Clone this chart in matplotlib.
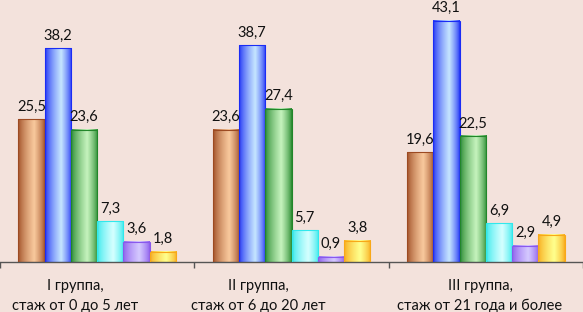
import numpy as np
import matplotlib
matplotlib.use("Agg")
import matplotlib.pyplot as plt
from matplotlib.colors import LinearSegmentedColormap
from matplotlib.patches import Rectangle
from matplotlib.transforms import blended_transform_factory

categories = ["I группа,\nстаж от 0 до 5 лет",
              "II группа,\nстаж от 6 до 20 лет",
              "III группа,\nстаж от 21 года и более"]
s1 = [25.5, 23.6, 19.6]
s2 = [38.2, 38.7, 43.1]
s3 = [23.6, 27.4, 22.5]
s4 = [7.3, 5.7, 6.9]
s5 = [3.6, 0.9, 2.9]
s6 = [1.8, 3.8, 4.9]
labels = [["25,5", "23,6", "19,6"], ["38,2", "38,7", "43,1"], ["23,6", "27,4", "22,5"],
          ["7,3", "5,7", "6,9"], ["3,6", "0,9", "2,9"], ["1,8", "3,8", "4,9"]]
series = [s1, s2, s3, s4, s5, s6]

# (dark edge, light centre)
palette = [("#9c4a22", "#f8c89c"),
           ("#1a2cf5", "#c4e4ff"),
           ("#22862a", "#c4f2bc"),
           ("#30e8ec", "#d4ffff"),
           ("#8a58ec", "#d4c8ff"),
           ("#f8a818", "#ffff8c")]
# horizontal shift of category captions relative to group centre (style)
caption_shift = [-0.115, -0.17, -0.03]

bg = "#f3e2dc"
plt.rcParams['font.family'] = ['Lato', 'DejaVu Sans']

fig = plt.figure(figsize=(5.83, 3.12), dpi=100, facecolor=bg)
ax = fig.add_axes([0.0, (312 - 262) / 312, 1.0, (262 - 10) / 312])
ax.set_facecolor(bg)
ax.set_xlim(0, 3)
ax.set_ylim(0, 45)

bw = 0.135
n = len(series)
x = np.arange(len(categories)) + 0.5
grad = np.concatenate([np.linspace(0, 1, 60), np.linspace(1, 0, 40)])
grad = grad ** 0.7
for i, (vals, (dark, light)) in enumerate(zip(series, palette)):
    cmap = LinearSegmentedColormap.from_list(f"c{i}", [dark, light])
    offs = (i - (n - 1) / 2) * bw
    for j, v in enumerate(vals):
        x0 = x[j] + offs - bw / 2
        ax.imshow(grad[np.newaxis, :], cmap=cmap, aspect='auto',
                  extent=[x0, x0 + bw, 0, v], vmin=0, vmax=1, zorder=2)
        ax.add_patch(Rectangle((x0, 0), bw, v, fill=False, edgecolor=dark,
                               linewidth=0.8, zorder=3))
        ax.text(x[j] + offs, v + 1.0, labels[i][j], ha='center', va='bottom',
                fontsize=10.5, color='#111111', clip_on=False, zorder=4)

ax.set_xlim(0, 3)
ax.set_ylim(0, 45)
for sp in ['top', 'right', 'left']:
    ax.spines[sp].set_visible(False)
ax.spines['bottom'].set_color('#555555')
ax.spines['bottom'].set_linewidth(1.0)
ax.set_yticks([])
ax.set_xticks([0, 1, 2, 3])
ax.set_xticklabels([])
ax.tick_params(axis='x', direction='out', length=4, color='#555555', width=1)

tr = blended_transform_factory(ax.transData, fig.transFigure)
for j, c in enumerate(categories):
    l1, l2 = c.split("\n")
    cx = x[j] + caption_shift[j]
    ax.text(cx, 1 - 290 / 312, l1, ha='center', va='baseline', fontsize=10.5,
            color='#111111', transform=tr, clip_on=False)
    ax.text(cx, 1 - 310 / 312, l2, ha='center', va='baseline', fontsize=10.5,
            color='#111111', transform=tr, clip_on=False)

fig.savefig("out.png", dpi=100, facecolor=bg)
